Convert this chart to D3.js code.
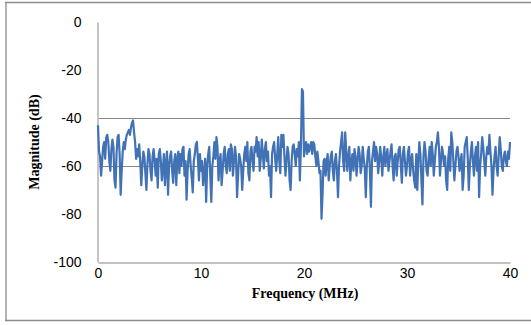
<!DOCTYPE html>
<html>
<head>
<meta charset="utf-8">
<script src="https://cdn.jsdelivr.net/npm/d3@7"></script>
<style>
  body { margin: 0; background: #fff; }
  svg { display: block; }
</style>
</head>
<body>
<div id="chart"></div>
<script>
// spectrum, 0.1 MHz steps, one row per MHz
const magnitude = [
  -43,-54,-56,-64,-58,-52,-50,-57,-48,-47,
  -50,-58,-62,-53,-49,-52,-66,-69,-55,-48,
  -47,-55,-72,-62,-54,-50,-53,-49,-47,-46,
  -45,-47,-44,-42,-41,-46,-50,-57,-53,-56,
  -51,-58,-68,-60,-54,-56,-63,-70,-59,-53,
  -55,-62,-66,-56,-53,-58,-64,-57,-69,-55,
  -53,-58,-66,-61,-55,-68,-59,-54,-72,-60,
  -56,-54,-62,-67,-58,-55,-68,-57,-54,-63,
  -55,-60,-53,-52,-64,-58,-74,-62,-55,-53,
  -60,-65,-71,-58,-55,-51,-50,-57,-66,-55,
  -62,-58,-68,-63,-57,-75,-60,-55,-52,-64,
  -75,-60,-56,-50,-57,-48,-52,-66,-58,-55,
  -68,-62,-55,-52,-60,-63,-55,-53,-62,-51,
  -53,-64,-58,-52,-56,-73,-64,-55,-57,-60,
  -70,-62,-55,-52,-58,-50,-63,-66,-54,-52,
  -58,-62,-52,-54,-48,-56,-50,-62,-57,-49,
  -55,-61,-53,-50,-58,-54,-64,-60,-73,-55,
  -52,-50,-57,-62,-55,-48,-58,-63,-47,-52,
  -47,-56,-64,-58,-52,-55,-66,-70,-58,-52,
  -51,-55,-60,-53,-56,-50,-66,-52,-28,-29,
  -56,-52,-50,-55,-51,-54,-52,-50,-55,-50,
  -51,-56,-60,-54,-58,-63,-62,-82,-72,-58,
  -57,-64,-58,-55,-66,-60,-56,-54,-62,-66,
  -58,-55,-62,-73,-60,-54,-50,-46,-58,-62,
  -46,-54,-62,-56,-52,-66,-58,-55,-62,-53,
  -56,-64,-58,-52,-55,-63,-60,-52,-57,-61,
  -73,-60,-54,-52,-62,-77,-58,-54,-50,-58,
  -52,-55,-63,-58,-52,-57,-64,-56,-52,-60,
  -56,-53,-62,-58,-54,-51,-60,-66,-56,-55,
  -64,-58,-53,-52,-60,-67,-55,-52,-58,-64,
  -60,-54,-52,-64,-58,-55,-62,-66,-69,-55,
  -70,-58,-50,-55,-66,-76,-56,-50,-54,-62,
  -64,-57,-52,-60,-50,-55,-64,-58,-52,-50,
  -46,-52,-64,-58,-52,-55,-60,-56,-66,-70,
  -57,-52,-62,-46,-50,-58,-66,-60,-54,-52,
  -56,-62,-58,-55,-70,-64,-52,-50,-48,-57,
  -70,-60,-54,-50,-58,-64,-56,-52,-62,-50,
  -73,-60,-55,-48,-52,-58,-64,-56,-52,-55,
  -47,-54,-60,-72,-62,-56,-52,-60,-64,-56,
  -48,-53,-60,-62,-56,-54,-58,-60,-54,-57,
  -50
];
const freqStep = 0.1;
const xTicks = [0, 10, 20, 30, 40];
const yTicks = [0, -20, -40, -60, -80, -100];
const gridLines = [-40, -60];

const width = 531, height = 325;
const margin = { top: 22, right: 21, bottom: 63, left: 98 };

const svg = d3.select('#chart').append('svg')
  .attr('width', width).attr('height', height);

// outer frame (left, top, bottom)
svg.append('line').attr('x1', 6).attr('x2', 6).attr('y1', 2).attr('y2', 320)
  .attr('stroke', '#b4b4b4').attr('stroke-width', 2);
svg.append('line').attr('x1', 5).attr('x2', 531).attr('y1', 2.5).attr('y2', 2.5)
  .attr('stroke', '#8c8c8c').attr('stroke-width', 1.5);
svg.append('line').attr('x1', 5).attr('x2', 531).attr('y1', 320.5).attr('y2', 320.5)
  .attr('stroke', '#8c8c8c').attr('stroke-width', 1.5);

const x = d3.scaleLinear().domain([0, 40]).range([margin.left, width - margin.right]);
const y = d3.scaleLinear().domain([-100, 0]).range([height - margin.bottom, margin.top]);

// gridlines
svg.append('g').selectAll('line').data(gridLines).enter().append('line')
  .attr('x1', x(0)).attr('x2', x(40))
  .attr('y1', d => Math.round(y(d)) + 0.5).attr('y2', d => Math.round(y(d)) + 0.5)
  .attr('stroke', '#868686').attr('stroke-width', 1);

// x axis
const gx = svg.append('g')
  .attr('transform', `translate(0, ${Math.round(y(-100)) + 0.5})`)
  .call(d3.axisBottom(x).tickValues(xTicks).tickSize(0).tickPadding(6));
gx.select('.domain').attr('stroke', '#868686');
gx.selectAll('text').attr('font-family', 'Liberation Sans, Arial, sans-serif')
  .attr('font-size', 14).attr('fill', '#000');

// y axis, plain hyphen for negatives
const gy = svg.append('g')
  .attr('transform', `translate(${x(0) - 0.5}, 0)`)
  .call(d3.axisLeft(y).tickValues(yTicks).tickSize(0).tickPadding(16)
    .tickFormat(d => String(d)));
gy.select('.domain').attr('stroke', '#c4c4c4').attr('stroke-width', 2);
gy.selectAll('text').attr('font-family', 'Liberation Sans, Arial, sans-serif')
  .attr('font-size', 14).attr('fill', '#000');

// series
const line = d3.line()
  .x((d, i) => x(i * freqStep))
  .y(d => y(d));
svg.append('path').datum(magnitude)
  .attr('d', line)
  .attr('fill', 'none')
  .attr('stroke', '#4272b6')
  .attr('stroke-width', 2.2)
  .attr('stroke-linejoin', 'round');

// axis titles
svg.append('text')
  .attr('x', 305).attr('y', 298)
  .attr('text-anchor', 'middle')
  .attr('font-family', 'Liberation Serif, Times New Roman, serif')
  .attr('font-weight', 'bold').attr('font-size', 14)
  .text('Frequency (MHz)');

svg.append('text')
  .attr('transform', 'translate(39, 142) rotate(-90)')
  .attr('text-anchor', 'middle')
  .attr('font-family', 'Liberation Serif, Times New Roman, serif')
  .attr('font-weight', 'bold').attr('font-size', 14)
  .text('Magnitude (dB)');
</script>
</body>
</html>
